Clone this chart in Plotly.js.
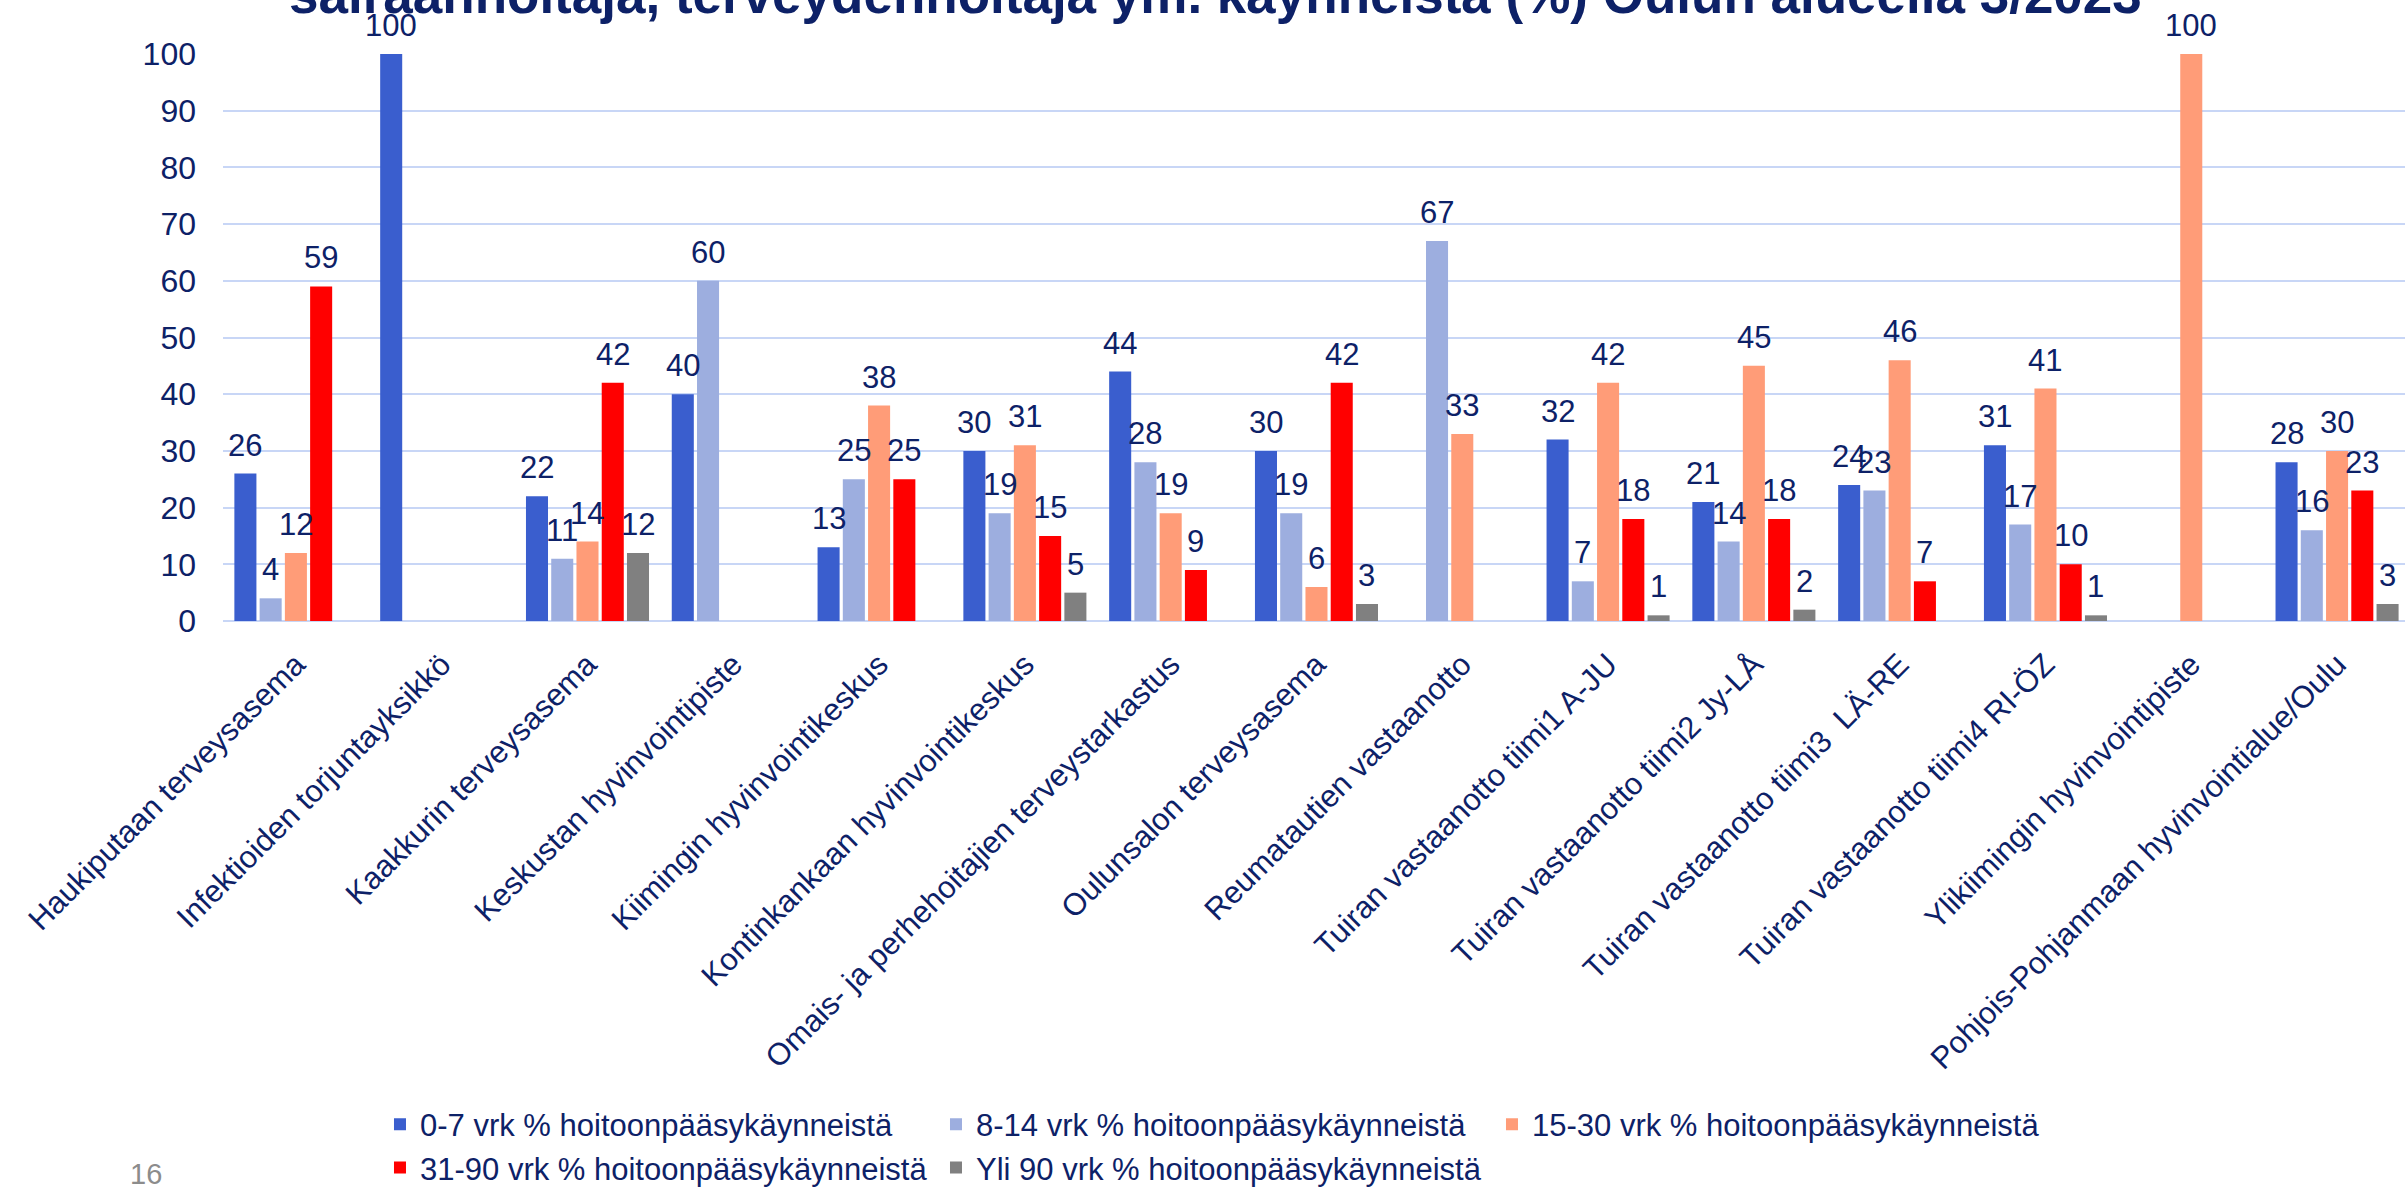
<!DOCTYPE html>
<html>
<head>
<meta charset="utf-8">
<script src="https://cdn.plot.ly/plotly-3.0.1.min.js"></script>
<style>
  html, body { margin: 0; padding: 0; background: #ffffff; }
  #chart { width: 2405px; height: 1193px; }
</style>
</head>
<body>
<div id="chart"></div>
<script>
const categories = [
  "Haukiputaan terveysasema",
  "Infektioiden torjuntayksikkö",
  "Kaakkurin terveysasema",
  "Keskustan hyvinvointipiste",
  "Kiimingin hyvinvointikeskus",
  "Kontinkankaan hyvinvointikeskus",
  "Omais- ja perhehoitajien terveystarkastus",
  "Oulunsalon terveysasema",
  "Reumatautien vastaanotto",
  "Tuiran vastaanotto tiimi1 A-JU",
  "Tuiran vastaanotto tiimi2 Jy-LÅ",
  "Tuiran vastaanotto tiimi3\u00a0 LÄ-RE",
  "Tuiran vastaanotto tiimi4 RI-ÖZ",
  "Ylikiimingin hyvinvointipiste",
  "Pohjois-Pohjanmaan hyvinvointialue/Oulu"
];

const seriesNames = [
  "0-7 vrk % hoitoonpääsykäynneistä",
  "8-14 vrk % hoitoonpääsykäynneistä",
  "15-30 vrk % hoitoonpääsykäynneistä",
  "31-90 vrk % hoitoonpääsykäynneistä",
  "Yli 90 vrk % hoitoonpääsykäynneistä"
];

const vrk0_7   = [26, 100, 22, 40, 13, 30, 44, 30, null, 32, 21, 24, 31, null, 28];
const vrk8_14  = [4, null, 11, 60, 25, 19, 28, 19, 67, 7, 14, 23, 17, null, 16];
const vrk15_30 = [12, null, 14, null, 38, 31, 19, 6, 33, 42, 45, 46, 41, 100, 30];
const vrk31_90 = [59, null, 42, null, 25, 15, 9, 42, null, 18, 18, 7, 10, null, 23];
const yli90    = [null, null, 12, null, null, 5, null, 3, null, 1, 2, null, 1, null, 3];

const yTicks = [0, 10, 20, 30, 40, 50, 60, 70, 80, 90, 100];

const titleText = "sairaanhoitaja, terveydenhoitaja ym. käynneistä (%) Oulun alueella 3/2023";
const pageNumber = "16";

const colors = ["#3A5ECE", "#9DAEDF", "#FF9C78", "#FF0000", "#808080"];
const navy = "#0D2167";
const fontFam = "Arial, 'Liberation Sans', sans-serif";

const seriesValues = [vrk0_7, vrk8_14, vrk15_30, vrk31_90, yli90];

// layout geometry (styling, not data)
const W = 2405, H = 1193;
const marginL = 223, marginR = 0, marginT = 54, marginB = 572;
const xRange = [-0.5, 14.466];
const barGap = 0.134;
const plotW = W - marginL - marginR;
const catPx = plotW / (xRange[1] - xRange[0]);
const slotPx = catPx * (1 - barGap) / seriesValues.length;

const traces = seriesValues.map((vals, i) => ({
  type: "bar",
  name: seriesNames[i],
  x: categories,
  y: vals,
  marker: { color: colors[i] },
  hoverinfo: "x+y+name"
}));

// value labels placed at the data coordinates of each bar top
const labelAnnotations = [];
seriesValues.forEach((vals, i) => {
  vals.forEach((v, j) => {
    if (v === null) return;
    labelAnnotations.push({
      text: String(v),
      xref: "x", yref: "y",
      x: categories[j], y: v,
      xshift: (i - (seriesValues.length - 1) / 2) * slotPx,
      yshift: 9,
      xanchor: "center", yanchor: "bottom",
      showarrow: false,
      font: { family: fontFam, size: 31, color: navy }
    });
  });
});

const layout = {
  width: W,
  height: H,
  paper_bgcolor: "#ffffff",
  plot_bgcolor: "#ffffff",
  margin: { l: marginL, r: marginR, t: marginT, b: marginB, pad: 0 },
  barmode: "group",
  bargap: barGap,
  bargroupgap: 0.127,
  font: { family: fontFam, color: navy },
  xaxis: {
    type: "category",
    range: xRange,
    tickangle: -45,
    tickfont: { family: fontFam, size: 31, color: navy },
    showgrid: false,
    showline: false,
    zeroline: false,
    ticks: "",
    ticklabelstandoff: 18,
    automargin: false
  },
  yaxis: {
    range: [0, 100],
    tickvals: yTicks,
    ticktext: yTicks.map(String),
    tickfont: { family: fontFam, size: 32, color: navy },
    showgrid: true,
    gridcolor: "#C8D6F6",
    gridwidth: 2,
    zeroline: true,
    zerolinecolor: "#C8D6F6",
    zerolinewidth: 2,
    showline: false,
    ticks: "",
    ticklabelstandoff: 26,
    automargin: false
  },
  legend: {
    orientation: "h",
    xref: "container",
    yref: "container",
    x: 0.158,
    xanchor: "left",
    y: 0.080,
    yanchor: "top",
    font: { family: fontFam, size: 31, color: navy },
    entrywidth: 511,
    entrywidthmode: "pixels",
    itemwidth: 30,
    bgcolor: "rgba(0,0,0,0)",
    traceorder: "normal"
  },
  annotations: [
    {
      text: "<b>" + titleText + "</b>",
      xref: "paper", yref: "paper",
      x: (1215 - marginL) / plotW, y: 1 + (marginT + 6) / (H - marginT - marginB),
      xanchor: "center", yanchor: "middle",
      showarrow: false,
      font: { family: fontFam, size: 53, color: navy }
    },
    {
      text: pageNumber,
      xref: "paper", yref: "paper",
      x: (146 - marginL) / plotW, y: -(1174 - (H - marginB)) / (H - marginT - marginB),
      xanchor: "center", yanchor: "middle",
      showarrow: false,
      font: { family: fontFam, size: 29, color: "#8C8C8C" }
    }
  ].concat(labelAnnotations),
  showlegend: true
};

Plotly.newPlot("chart", traces, layout, { displayModeBar: false, staticPlot: true });
</script>
</body>
</html>
